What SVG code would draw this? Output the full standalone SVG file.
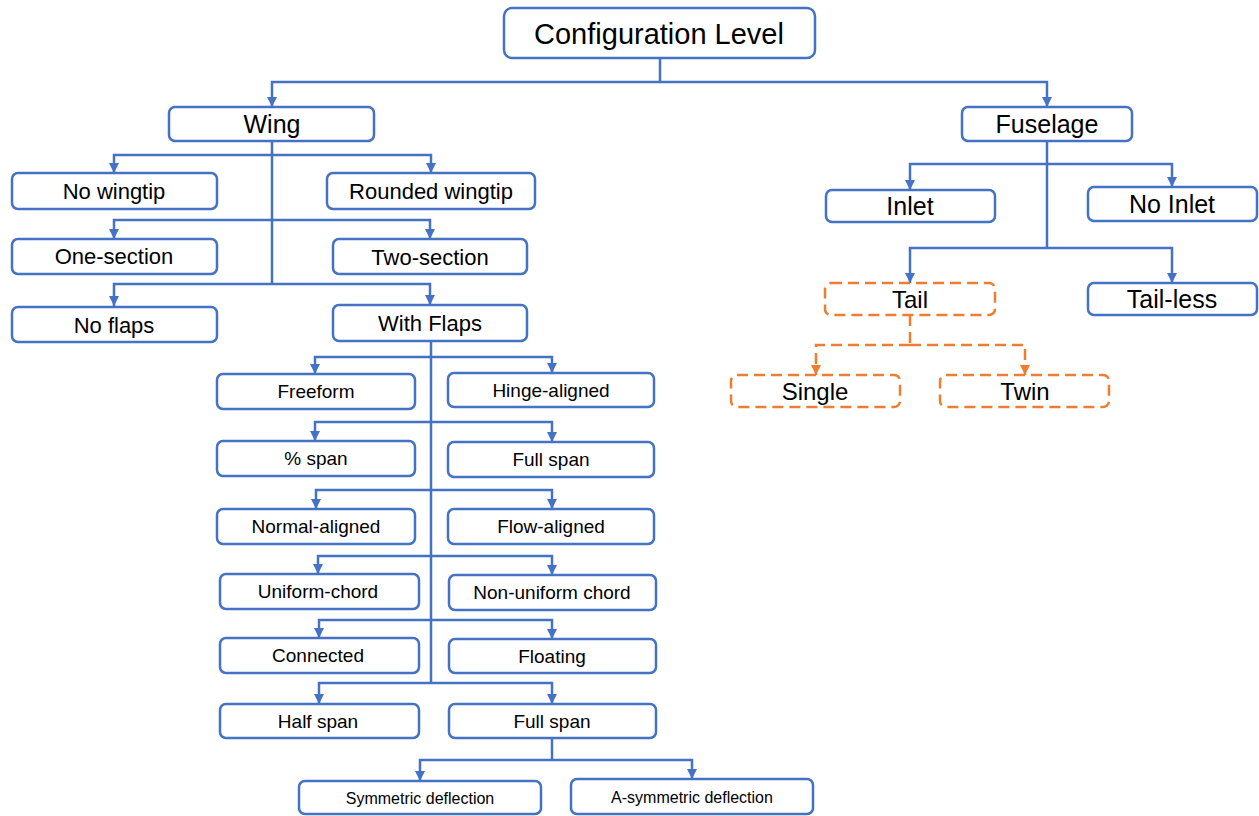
<svg xmlns="http://www.w3.org/2000/svg" width="1259" height="816" viewBox="0 0 1259 816">
<style>
.b{fill:#fff;stroke:#4472C4;stroke-width:2.5}
.o{fill:#fff;stroke:#ED7D31;stroke-width:2.5;stroke-dasharray:11 6}
.c{fill:none;stroke:#4472C4;stroke-width:2.5}
.co{fill:none;stroke:#ED7D31;stroke-width:2.5;stroke-dasharray:11 6}
text{font-family:"Liberation Sans",Arial,sans-serif;fill:#000;text-anchor:middle}
.t29{font-size:29px}.t25{font-size:25px}.t22{font-size:22px}.t24{font-size:24px}.t18{font-size:19px}.t15{font-size:16px}
</style>
<defs>
<marker id="a" viewBox="0 0 10 10" refX="10" refY="5" markerWidth="10" markerHeight="10" markerUnits="userSpaceOnUse" orient="auto"><path d="M0,0 L10,5 L0,10 z" fill="#4472C4"/></marker>
<marker id="ao" viewBox="0 0 10 10" refX="10" refY="5" markerWidth="10" markerHeight="10" markerUnits="userSpaceOnUse" orient="auto"><path d="M0,0 L10,5 L0,10 z" fill="#ED7D31"/></marker>
</defs>
<rect width="1259" height="816" fill="#fff"/>
<g id="connectors">
<path class="c" d="M660,58 V82"/>
<path class="c" d="M660,82 H272 V107" marker-end="url(#a)"/>
<path class="c" d="M660,82 H1047 V107" marker-end="url(#a)"/>
<path class="c" d="M272,141 V284"/>
<path class="c" d="M272,155 H114 V173" marker-end="url(#a)"/>
<path class="c" d="M272,155 H431 V173" marker-end="url(#a)"/>
<path class="c" d="M272,220 H114 V239" marker-end="url(#a)"/>
<path class="c" d="M272,220 H430 V239" marker-end="url(#a)"/>
<path class="c" d="M272,284 H114 V306" marker-end="url(#a)"/>
<path class="c" d="M272,284 H430 V305" marker-end="url(#a)"/>
<path class="c" d="M431,341 V683"/>
<path class="c" d="M431,357 H315 V374" marker-end="url(#a)"/>
<path class="c" d="M431,357 H552 V373" marker-end="url(#a)"/>
<path class="c" d="M431,422 H315 V441" marker-end="url(#a)"/>
<path class="c" d="M431,422 H552 V442" marker-end="url(#a)"/>
<path class="c" d="M431,490 H316 V509" marker-end="url(#a)"/>
<path class="c" d="M431,490 H552 V509" marker-end="url(#a)"/>
<path class="c" d="M431,556 H318 V574" marker-end="url(#a)"/>
<path class="c" d="M431,556 H552 V575" marker-end="url(#a)"/>
<path class="c" d="M431,620 H319 V638" marker-end="url(#a)"/>
<path class="c" d="M431,620 H552 V639" marker-end="url(#a)"/>
<path class="c" d="M431,683 H319 V704" marker-end="url(#a)"/>
<path class="c" d="M431,683 H552 V704" marker-end="url(#a)"/>
<path class="c" d="M552,738 V760"/>
<path class="c" d="M552,760 H420 V781" marker-end="url(#a)"/>
<path class="c" d="M552,760 H692 V779" marker-end="url(#a)"/>
<path class="c" d="M1047,141 V248"/>
<path class="c" d="M1047,164 H910 V190" marker-end="url(#a)"/>
<path class="c" d="M1047,164 H1172 V187" marker-end="url(#a)"/>
<path class="c" d="M1047,248 H910 V283" marker-end="url(#a)"/>
<path class="c" d="M1047,248 H1172 V283" marker-end="url(#a)"/>
<path class="co" d="M910,315 V345"/>
<path class="co" d="M910,345 H816 V375" marker-end="url(#ao)"/>
<path class="co" d="M910,345 H1025 V375" marker-end="url(#ao)"/>
</g>
<g id="config"><rect class="b" x="504" y="8" width="311" height="50" rx="8"/><text class="t29" x="659" y="44">Configuration Level</text></g>
<g id="wing"><rect class="b" x="169" y="107" width="205" height="34" rx="6"/><text class="t25" x="272" y="133">Wing</text></g>
<g id="no-wingtip"><rect class="b" x="12" y="173" width="205" height="36" rx="6"/><text class="t22" x="114" y="199">No wingtip</text></g>
<g id="rounded-wingtip"><rect class="b" x="327" y="173" width="208" height="36" rx="6"/><text class="t22" x="431" y="199">Rounded wingtip</text></g>
<g id="one-section"><rect class="b" x="12" y="239" width="205" height="35" rx="6"/><text class="t22" x="114" y="264">One-section</text></g>
<g id="two-section"><rect class="b" x="333" y="239" width="194" height="35" rx="6"/><text class="t22" x="430" y="265">Two-section</text></g>
<g id="no-flaps"><rect class="b" x="12" y="307" width="205" height="35" rx="6"/><text class="t22" x="114" y="333">No flaps</text></g>
<g id="with-flaps"><rect class="b" x="333" y="305" width="194" height="36" rx="6"/><text class="t22" x="430" y="331">With Flaps</text></g>
<g id="freeform"><rect class="b" x="217" y="374" width="198" height="35" rx="6"/><text class="t18" x="316" y="398">Freeform</text></g>
<g id="hinge-aligned"><rect class="b" x="448" y="373" width="206" height="34" rx="6"/><text class="t18" x="551" y="397">Hinge-aligned</text></g>
<g id="pct-span"><rect class="b" x="217" y="441" width="198" height="35" rx="6"/><text class="t18" x="316" y="465">% span</text></g>
<g id="full-span-1"><rect class="b" x="448" y="442" width="206" height="35" rx="6"/><text class="t18" x="551" y="466">Full span</text></g>
<g id="normal-aligned"><rect class="b" x="217" y="509" width="198" height="35" rx="6"/><text class="t18" x="316" y="533">Normal-aligned</text></g>
<g id="flow-aligned"><rect class="b" x="448" y="509" width="206" height="35" rx="6"/><text class="t18" x="551" y="533">Flow-aligned</text></g>
<g id="uniform-chord"><rect class="b" x="220" y="574" width="199" height="35" rx="6"/><text class="t18" x="318" y="598">Uniform-chord</text></g>
<g id="non-uniform-chord"><rect class="b" x="449" y="575" width="207" height="35" rx="6"/><text class="t18" x="552" y="599">Non-uniform chord</text></g>
<g id="connected"><rect class="b" x="220" y="638" width="199" height="35" rx="6"/><text class="t18" x="318" y="662">Connected</text></g>
<g id="floating"><rect class="b" x="449" y="639" width="207" height="34" rx="6"/><text class="t18" x="552" y="663">Floating</text></g>
<g id="half-span"><rect class="b" x="220" y="704" width="199" height="34" rx="6"/><text class="t18" x="318" y="728">Half span</text></g>
<g id="full-span-2"><rect class="b" x="449" y="704" width="207" height="34" rx="6"/><text class="t18" x="552" y="728">Full span</text></g>
<g id="symmetric"><rect class="b" x="299" y="781" width="242" height="33" rx="6"/><text class="t15" x="420" y="804">Symmetric deflection</text></g>
<g id="a-symmetric"><rect class="b" x="571" y="779" width="242" height="35" rx="6"/><text class="t15" x="692" y="803">A-symmetric deflection</text></g>
<g id="fuselage"><rect class="b" x="962" y="107" width="170" height="34" rx="6"/><text class="t25" x="1047" y="133">Fuselage</text></g>
<g id="inlet"><rect class="b" x="826" y="190" width="169" height="32" rx="6"/><text class="t25" x="910" y="215">Inlet</text></g>
<g id="no-inlet"><rect class="b" x="1088" y="187" width="169" height="34" rx="6"/><text class="t25" x="1172" y="213">No Inlet</text></g>
<g id="tail"><rect class="o" x="825" y="283" width="170" height="32" rx="6"/><text class="t24" x="910" y="308">Tail</text></g>
<g id="tail-less"><rect class="b" x="1088" y="283" width="169" height="32" rx="6"/><text class="t25" x="1172" y="308">Tail-less</text></g>
<g id="single"><rect class="o" x="731" y="375" width="169" height="32" rx="6"/><text class="t24" x="815" y="400">Single</text></g>
<g id="twin"><rect class="o" x="940" y="375" width="169" height="32" rx="6"/><text class="t24" x="1025" y="400">Twin</text></g>
</svg>
